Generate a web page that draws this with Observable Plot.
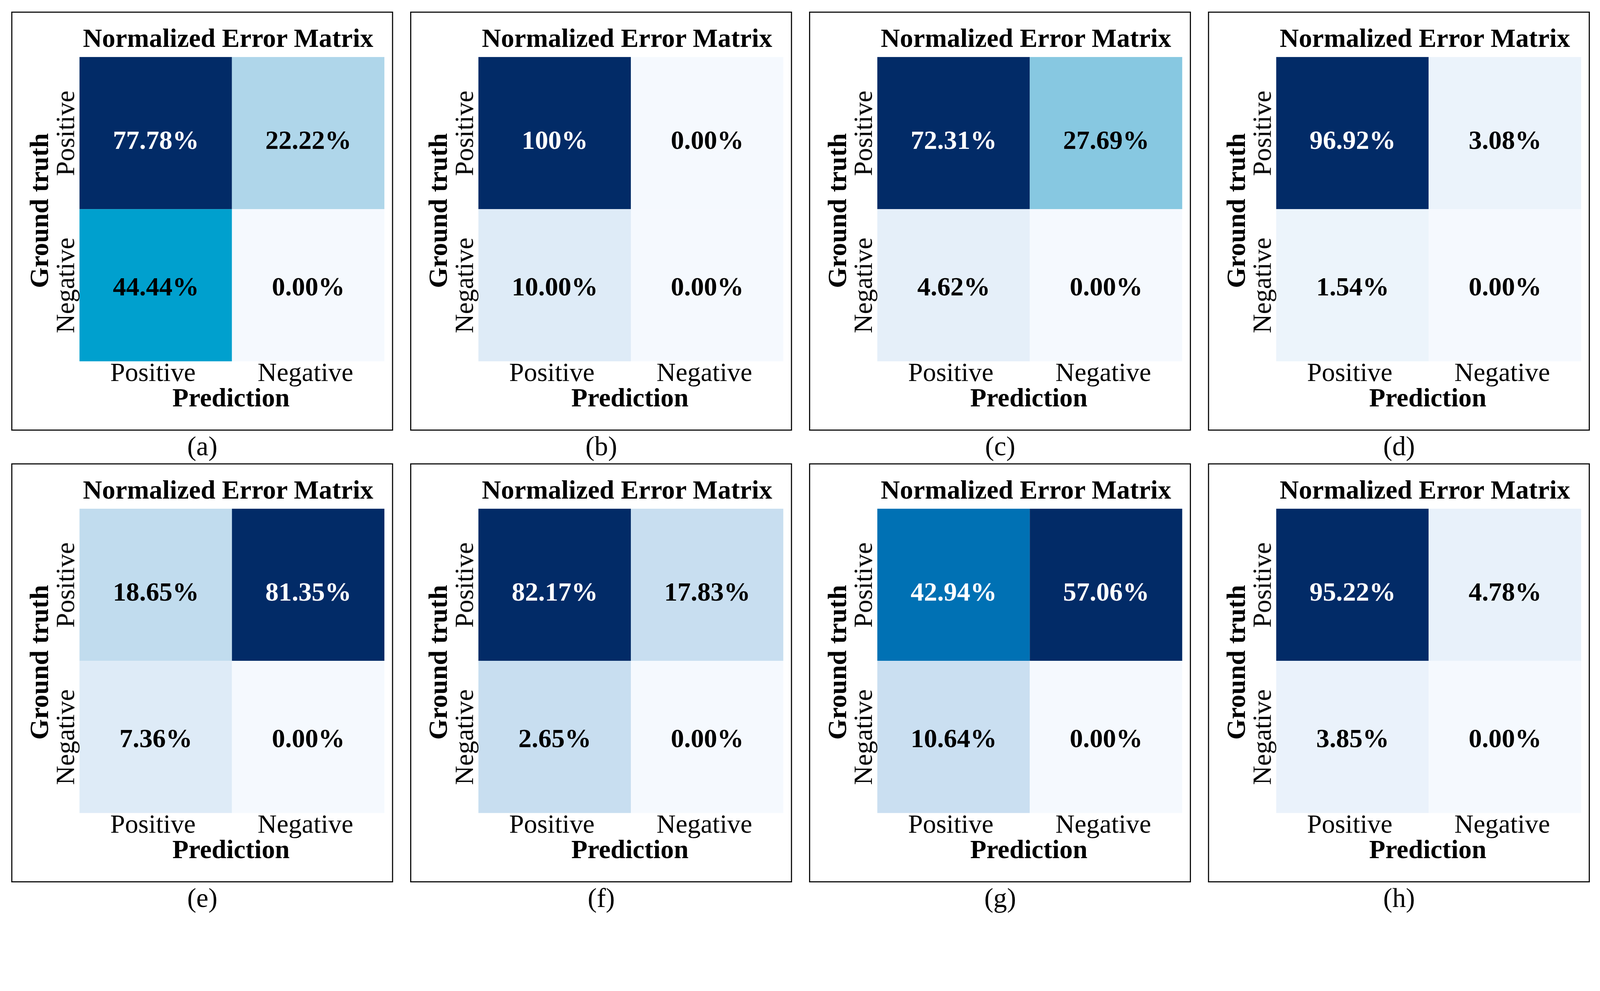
<!DOCTYPE html>
<html>
<head>
<meta charset="utf-8">
<script src="https://cdn.jsdelivr.net/npm/d3@7"></script>
<script src="https://cdn.jsdelivr.net/npm/@observablehq/plot@0.6"></script>
<style>
  html, body { margin: 0; padding: 0; background: #ffffff; overflow: hidden; }
  #grid { display: flex; flex-wrap: wrap; width: 4408px; height: 2536px; align-content: flex-start; transform-origin: 0 0; }
  #grid svg { overflow: visible; flex: none; max-width: none; }
</style>
</head>
<body>
<div id="grid"></div>
<script>
// ---- data ----
const panelLetters = ["a", "b", "c", "d", "e", "f", "g", "h"];
const predictionClasses = ["Positive", "Negative"];   // columns
const truthClasses = ["Positive", "Negative"];        // rows
const chartTitle = "Normalized Error Matrix";
const xLabel = "Prediction";
const yLabel = "Ground truth";

// cell order: [truth+/pred+, truth+/pred-, truth-/pred+, truth-/pred-]
const valuesA = [77.78, 22.22, 44.44, 0.00];
const valuesB = [100, 0.00, 10.00, 0.00];
const valuesC = [72.31, 27.69, 4.62, 0.00];
const valuesD = [96.92, 3.08, 1.54, 0.00];
const valuesE = [18.65, 81.35, 7.36, 0.00];
const valuesF = [82.17, 17.83, 2.65, 0.00];
const valuesG = [42.94, 57.06, 10.64, 0.00];
const valuesH = [95.22, 4.78, 3.85, 0.00];

// colour-map position of each cell (0 = lightest, 1 = darkest)
const shadeA = [1, 0.30, 0.57, 0];
const shadeB = [1, 0, 0.10, 0];
const shadeC = [1, 0.40, 0.075, 0];
const shadeD = [1, 0.05, 0.045, 0];
const shadeE = [0.23, 1, 0.10, 0];
const shadeF = [1, 0.20, 0.20, 0];
const shadeG = [0.75, 1, 0.19, 0];
const shadeH = [1, 0.06, 0.055, 0];

const allValues = [valuesA, valuesB, valuesC, valuesD, valuesE, valuesF, valuesG, valuesH];
const allShades = [shadeA, shadeB, shadeC, shadeD, shadeE, shadeF, shadeG, shadeH];

// ---- styling ----
const FONT = "'Liberation Serif', 'Times New Roman', Times, serif";
const FS = 73;
const PAGE_W = 4408, PAGE_H = 2536;
const PANEL_W = 1099;
const ROW_H = 1243;
const colorStops = [0, 0.05, 0.1, 0.2, 0.3, 0.4, 0.57, 0.75, 1];
const colorRange = ["#f5f9fe", "#ebf3fb", "#deebf7", "#c8def0", "#afd6ea", "#87c8e1", "#00a0ce", "#0071b4", "#022b67"];

const fmt = v => (v === 100 ? "100%" : v.toFixed(2) + "%");

function makePanel(idx) {
  const row = idx < 4 ? 0 : 1;
  const values = allValues[idx], shades = allShades[idx];
  const cells = [];
  truthClasses.forEach((t, i) => predictionClasses.forEach((p, j) => {
    const k = i * 2 + j;
    cells.push({truth: t, pred: p, value: values[k], shade: shades[k]});
  }));
  const H = row === 0 ? ROW_H : PAGE_H - ROW_H;
  const top = row === 0 ? 156 : 157;
  const bottom = row === 0 ? 995 : 996;

  const valueMarks = [];
  [["Positive", 20], ["Negative", 4]].forEach(([t, dy]) => {
    [["white", true], ["black", false]].forEach(([col, dark]) => {
      valueMarks.push(Plot.text(cells.filter(d => d.truth === t && (d.shade >= 0.7) === dark), {
        x: "pred", y: "truth", text: d => fmt(d.value), fill: col,
        fontWeight: "bold", fontSize: FS, lineAnchor: "middle", dy
      }));
    });
  });

  return Plot.plot({
    width: PANEL_W,
    height: H,
    marginLeft: 219,
    marginRight: PANEL_W - 1059,
    marginTop: top,
    marginBottom: H - bottom,
    style: {fontFamily: FONT, fontSize: FS + "px", background: "transparent", overflow: "visible", maxWidth: "none"},
    x: {domain: predictionClasses, padding: 0, axis: null},
    y: {domain: truthClasses, padding: 0, axis: null},
    color: {type: "linear", domain: colorStops, range: colorRange, interpolate: "rgb"},
    marks: [
      Plot.cell(cells, {x: "pred", y: "truth", fill: "shade", inset: 0}),
      ...valueMarks,
      // x tick labels
      Plot.text(predictionClasses, {x: d => d, text: d => d, frameAnchor: "bottom", lineAnchor: "bottom", dy: 54, dx: -8, fontSize: FS}),
      // y tick labels (rotated)
      Plot.text(truthClasses, {y: d => d, text: d => d, frameAnchor: "left", rotate: -90, lineAnchor: "bottom", textAnchor: "middle", dx: -15, fontSize: FS}),
      // title
      Plot.text([chartTitle], {text: d => d, frameAnchor: "top", lineAnchor: "bottom", dy: -27, dx: -11, fontWeight: "bold", fontSize: FS}),
      // axis labels
      Plot.text([xLabel], {text: d => d, frameAnchor: "bottom", lineAnchor: "bottom", dy: 124, dx: -3, fontWeight: "bold", fontSize: FS}),
      Plot.text([yLabel], {text: d => d, frameAnchor: "left", rotate: -90, lineAnchor: "bottom", textAnchor: "middle", dx: -87, dy: 4, fontWeight: "bold", fontSize: FS}),
      // panel caption
      Plot.text([`(${panelLetters[idx]})`], {text: d => d, frameAnchor: "bottom", lineAnchor: "bottom", dy: 258, dx: -82, fontSize: 75}),
      // panel box
      Plot.frame({stroke: "black", strokeWidth: 3, insetLeft: -187, insetRight: -22, insetTop: -123, insetBottom: -189})
    ]
  });
}

const grid = document.getElementById("grid");
panelLetters.forEach((_, i) => grid.appendChild(makePanel(i)));

function fit() {
  const s = Math.min(window.innerWidth / PAGE_W, window.innerHeight / PAGE_H);
  grid.style.transform = `scale(${s})`;
}
fit();
window.addEventListener("resize", fit);
</script>
</body>
</html>
